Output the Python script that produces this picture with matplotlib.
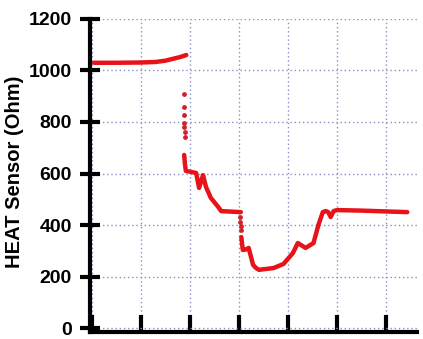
import matplotlib
matplotlib.use("Agg")
import matplotlib.pyplot as plt

# Segment 1: stable high resistance
x1 = [0.05, 0.5, 1.0, 1.3, 1.5, 1.65, 1.8, 1.93]
y1 = [1030, 1030, 1031, 1033, 1038, 1045, 1052, 1060]

# Sparse dots during first drop
xd1 = [1.88, 1.885, 1.89, 1.885, 1.89, 1.895, 1.90]
yd1 = [909, 858, 827, 795, 780, 760, 742]

# Segment 2
x2 = [1.886, 1.90, 1.92, 2.03, 2.13, 2.19, 2.27, 2.33, 2.43, 2.58, 2.64, 2.84, 3.04]
y2 = [672, 640, 610, 606, 602, 544, 594, 548, 505, 470, 454, 452, 450]

# Sparse dots during second drop
xd2 = [3.03, 3.03, 3.04, 3.04]
yd2 = [431, 412, 395, 380]

# Segment 3
x3 = [3.05, 3.08, 3.14, 3.20, 3.29, 3.35, 3.41, 3.71, 3.91, 4.10, 4.20, 4.36,
      4.52, 4.62, 4.71, 4.77, 4.82, 4.87, 4.93, 5.00, 5.48, 6.43]
y3 = [353, 303, 305, 311, 245, 233, 226, 233, 249, 291, 330, 311,
      330, 400, 450, 454, 450, 431, 454, 458, 456, 450]

yticks = [0, 200, 400, 600, 800, 1000, 1200]
xticks = [0, 1, 2, 3, 4, 5, 6]

red = "#e8121a"
fig = plt.figure(figsize=(4.23, 3.39), dpi=100)
ax = fig.add_axes([0.213, 0.021, 0.773, 0.923])
kw = dict(color=red, lw=3.2, solid_capstyle="round", solid_joinstyle="round")
ax.plot(x1, y1, **kw)
ax.plot(x2, y2, **kw)
ax.plot(x3, y3, **kw)
ax.scatter(xd1, yd1, s=6, color="#d0202a", zorder=3)
ax.scatter(xd2, yd2, s=6, color="#d0202a", zorder=3)

ax.set_xlim(-0.03, 6.63)
ax.set_ylim(-15, 1200)
ax.set_yticks(yticks)
ax.set_xticks(xticks)
ax.set_xticklabels([])
ax.set_yticklabels([str(v) for v in yticks], fontfamily="Liberation Sans",
                   fontweight="bold", fontsize=14)
ax.grid(True, color="#8a8fc8", linestyle=(0, (1, 2)), linewidth=1.0)
ax.set_axisbelow(True)
for s in ["top", "right"]:
    ax.spines[s].set_visible(False)
for s in ["left", "bottom"]:
    ax.spines[s].set_linewidth(3)
ax.tick_params(axis="y", direction="inout", length=14, width=3, pad=6)
ax.tick_params(axis="x", direction="in", length=12, width=3)
ax.set_ylabel("HEAT Sensor (Ohm)", fontfamily="Liberation Sans", fontweight="bold",
              fontsize=14.5)
ax.yaxis.set_label_coords(-0.202, 0.513)
fig.savefig("out.png", dpi=100)
